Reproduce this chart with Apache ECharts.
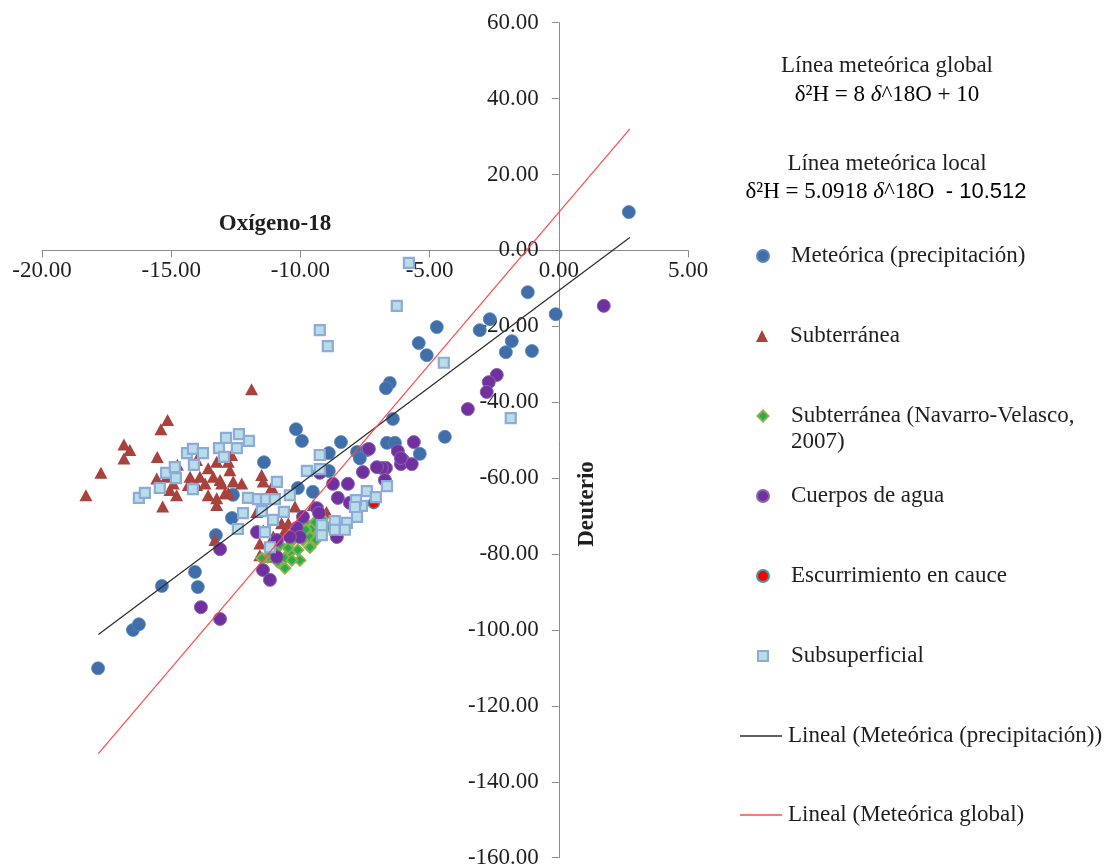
<!DOCTYPE html>
<html><head><meta charset="utf-8">
<script src="https://cdn.jsdelivr.net/npm/echarts@6/dist/echarts.min.js"></script>
<style>html,body{margin:0;padding:0;background:#fff}#c{width:1119px;height:868px}</style>
</head><body><div id="c"></div>
<script>
// ---------- data ----------
const xTicks = { min: -20, max: 5, step: 5 };
const yTicks = { min: -160, max: 60, step: 20 };

const meteorica = [
[2.71,10.1],[-1.2,-11.0],[-0.12,-16.8],[-2.67,-18.1],[-3.06,-21.0],[-1.82,-23.9],[-2.05,-26.8],[-1.04,-26.5],
[-4.72,-20.2],[-5.42,-24.4],[-5.11,-27.6],[-6.54,-34.9],[-6.69,-36.3],[-6.42,-44.4],[-4.41,-49.1],[-5.38,-53.6],
[-6.65,-50.7],[-6.34,-50.7],[-8.43,-50.5],[-7.81,-53.1],[-8.9,-53.4],[-8.9,-58.1],[-9.52,-63.6],[-10.17,-47.1],
[-9.94,-50.2],[-11.41,-55.8],[-12.61,-64.4],[-12.65,-70.5],[-13.27,-75.0],[-10.1,-62.6],[-17.83,-110.1],
[-16.48,-100.0],[-16.25,-98.5],[-15.36,-88.4],[-14.08,-84.7],[-13.97,-88.7],[-7.43,-52.6],[-7.7,-54.8]
];
const subterranea = [
[-11.89,-36.6],[-15.14,-44.7],[-15.4,-47.1],[-16.83,-51.1],[-16.6,-52.6],[-16.83,-54.8],[-15.54,-54.4],[-17.72,-58.6],
[-18.3,-64.5],[-15.33,-67.5],[-14.76,-56.5],[-14.02,-55.2],[-13.24,-55.7],[-12.79,-55.7],[-12.73,-57.9],[-13.57,-57.4],
[-14.27,-59.6],[-13.89,-59.6],[-13.37,-59.6],[-13.11,-60.5],[-12.6,-60.9],[-12.27,-61.4],[-15.56,-60.1],[-15.18,-59.6],
[-14.92,-61.4],[-15.05,-63.1],[-14.79,-64.5],[-14.34,-61.8],[-14.02,-61.8],[-13.69,-61.4],[-13.57,-64.5],[-13.24,-65.3],
[-12.92,-64.0],[-13.24,-67.1],[-11.5,-59.2],[-11.44,-60.9],[-11.11,-62.3],[-11.05,-63.6],[-12.66,-53.9],[-13.05,-61.4],
[-12.79,-64.0],[-11.69,-68.9],[-10.73,-71.9],[-10.47,-71.9],[-11.44,-73.7],[-11.57,-77.2],[-11.05,-75.4],[-10.6,-73.7],
[-10.21,-67.5],[-9.95,-71.0],[-9.5,-67.1],[-8.99,-68.9],[-9.12,-70.6],[-11.18,-80.7],[-11.57,-80.3],[-13.31,-76.3]
];
const navarroVelasco = [
[-11.26,-80.8],[-10.6,-83.7],[-10.99,-78.9],[-10.41,-79.7],[-10.1,-78.9],[-10.29,-76.3],[-9.9,-76.3],[-9.63,-78.2],
[-9.94,-73.6],[-9.63,-75.5],[-9.52,-73.1],[-9.25,-74.5],[-9.25,-71.8],[-8.97,-72.9],[-9.83,-71.6],[-9.44,-71.6],
[-10.14,-75.0],[-10.6,-81.1],[-10.87,-82.1],[-10.02,-81.6],[-10.79,-77.6],[-10.48,-78.4],[-11.14,-79.7],[-9.79,-73.6],
[-9.4,-76.3],[-9.17,-70.6],[-10.33,-81.6],[-11.49,-81.1]
];
const cuerpos = [
[1.74,-14.6],[-2.4,-32.8],[-2.71,-34.7],[-2.79,-37.3],[-3.52,-41.8],[-5.61,-50.5],[-6.23,-52.9],[-6.03,-55.2],
[-6.11,-56.3],[-5.69,-56.3],[-7.35,-52.3],[-6.69,-57.3],[-6.85,-57.3],[-7.58,-58.4],[-6.73,-60.5],[-8.74,-61.5],
[-8.16,-61.5],[-8.55,-65.2],[-8.09,-66.5],[-9.25,-58.6],[-8.59,-75.5],[-7.04,-57.1],[-6.11,-54.7],[-9.36,-67.9],
[-9.9,-70.2],[-10.14,-73.1],[-10.02,-75.5],[-10.41,-75.5],[-10.91,-76.3],[-11.68,-74.2],[-10.91,-80.8],[-11.45,-84.2],
[-11.18,-86.8],[-13.11,-78.7],[-9.28,-69.2],[-13.85,-94.0],[-13.11,-97.1]
];
const escurrimiento = [[-7.16,-66.6]];
const subsuperficial = [
[-5.8,-3.3],[-6.27,-14.6],[-9.25,-21.0],[-8.94,-25.2],[-4.45,-29.6],[-1.86,-44.2],[-9.25,-53.9],[-9.75,-58.1],
[-9.25,-57.6],[-6.65,-62.1],[-7.43,-63.4],[-7.08,-65.0],[-7.62,-67.3],[-7.85,-65.8],[-7.81,-70.2],[-8.2,-71.8],
[-8.67,-71.3],[-9.17,-72.4],[-9.17,-75.0],[-16.25,-65.2],[-16.02,-63.9],[-15.44,-62.6],[-15.2,-58.6],[-14.86,-57.1],
[-14.82,-60.0],[-14.39,-53.4],[-14.16,-52.3],[-13.77,-53.4],[-14.12,-56.5],[-14.16,-62.9],[-13.15,-52.1],[-12.88,-49.4],
[-12.38,-48.4],[-11.99,-50.2],[-12.46,-52.1],[-12.96,-54.4],[-10.91,-61.0],[-12.03,-65.2],[-11.64,-65.5],[-11.33,-65.5],
[-10.99,-65.5],[-10.41,-64.5],[-12.22,-69.2],[-11.49,-68.7],[-11.06,-71.0],[-10.64,-68.9],[-12.42,-73.4],[-11.37,-74.2],
[-11.18,-78.2],[-7.89,-67.6],[-8.67,-73.6],[-8.28,-73.6]
];
// trend line end points
const lineLocal = [[-17.82,-101.2],[2.75,3.4]];
const lineGlobal = [[-17.82,-132.6],[2.75,32.0]];

const names = {
  met: 'Meteórica (precipitación)',
  sub: 'Subterránea',
  nav: 'Subterránea (Navarro-Velasco, 2007)',
  cue: 'Cuerpos de agua',
  esc: 'Escurrimiento en cauce',
  sss: 'Subsuperficial',
  lloc: 'Lineal (Meteórica (precipitación))',
  lglo: 'Lineal (Meteórica global)'
};

// ---------- layout ----------
const W = 1119, H = 868;
const G = {left: 42, right: 431, top: 22.7, bottom: 10.3};
const gw = W - G.left - G.right, gh = H - G.top - G.bottom;
// put the axes where the other axis is zero
const xAxisOffset = -(gh * (0 - yTicks.min) / (yTicks.max - yTicks.min));
const yAxisOffset = -(gw * (0 - xTicks.min) / (xTicks.max - xTicks.min));

const FONT = 'Liberation Serif, Times New Roman, serif';
const TXT = '#1f1f1f';
const AX = '#8c8c8c';
const chart = echarts.init(document.getElementById('c'), null, {renderer: 'canvas'});

function legendAt(name, top, size, extra) {
  return Object.assign({
    data: [name], left: 762 - size / 2, top: top, orient: 'vertical', padding: 0,
    itemWidth: size, itemHeight: size, selectedMode: false,
    textStyle: {fontFamily: FONT, fontSize: 23, color: TXT, lineHeight: 26, padding: [0, 0, 0, 23 - size / 2]}
  }, extra || {});
}
function lineLegendAt(name, top) {
  return {
    data: [{name: name, icon: 'rect'}], left: 740, top: top, orient: 'vertical', padding: 0,
    itemWidth: 42, itemHeight: 1.3, selectedMode: false,
    textStyle: {fontFamily: FONT, fontSize: 23, color: TXT, lineHeight: 26, padding: [0, 0, 0, 1]}
  };
}

chart.setOption({
  animation: false,
  backgroundColor: '#fff',
  grid: {left: G.left, right: G.right, top: G.top, bottom: G.bottom, containLabel: false, outerBoundsMode: 'none'},
  xAxis: {
    type: 'value', min: xTicks.min, max: xTicks.max, interval: xTicks.step,
    position: 'bottom', offset: xAxisOffset,
    axisLine: {onZero: false, lineStyle: {color: AX, width: 1}},
    axisTick: {show: true, length: 7, lineStyle: {color: AX}},
    axisLabel: {formatter: v => v.toFixed(2), fontFamily: FONT, fontSize: 23, color: TXT, margin: 9},
    splitLine: {show: false}
  },
  yAxis: {
    type: 'value', min: yTicks.min, max: yTicks.max, interval: yTicks.step,
    position: 'left', offset: yAxisOffset,
    axisLine: {onZero: false, lineStyle: {color: AX, width: 1}},
    axisTick: {show: true, length: 7, lineStyle: {color: AX}},
    axisLabel: {formatter: v => v.toFixed(2), fontFamily: FONT, fontSize: 23, color: TXT, margin: 20},
    splitLine: {show: false}
  },
  legend: [
    legendAt(names.met, 243, 12),
    legendAt(names.sub, 323, 12),
    legendAt(names.nav, 377, 11, {
      formatter: () => ' \nSubterránea (Navarro-Velasco,\n2007)'
    }),
    legendAt(names.cue, 483, 12),
    legendAt(names.esc, 563, 12),
    legendAt(names.sss, 643, 10),
    lineLegendAt(names.lloc, 723),
    lineLegendAt(names.lglo, 802)
  ],
  graphic: [
    {type: 'text', x: 887, y: 66, style: {text: 'Línea meteórica global', font: '23px ' + FONT, fill: TXT, align: 'center', verticalAlign: 'middle'}},
    {type: 'text', x: 887, y: 95, style: {
      text: '{n|δ²H = 8 }{i|δ}{n|^18O + 10}', align: 'center', verticalAlign: 'middle',
      rich: {n: {fontFamily: FONT, fontSize: 23, color: TXT}, i: {fontFamily: FONT, fontSize: 23, fontStyle: 'italic', color: TXT}}
    }},
    {type: 'text', x: 887, y: 164, style: {text: 'Línea meteórica local', font: '23px ' + FONT, fill: TXT, align: 'center', verticalAlign: 'middle'}},
    {type: 'text', x: 886, y: 192, style: {
      text: '{n|δ²H = 5.0918 }{i|δ}{n|^18O  }{s|- 10.512}', align: 'center', verticalAlign: 'middle',
      rich: {n: {fontFamily: FONT, fontSize: 23, color: TXT}, i: {fontFamily: FONT, fontSize: 23, fontStyle: 'italic', color: TXT},
             s: {fontFamily: 'Liberation Sans, Arial, sans-serif', fontSize: 22, color: TXT}}
    }},
    {type: 'text', x: 275, y: 224, style: {text: 'Oxígeno-18', font: 'bold 23px ' + FONT, fill: TXT, align: 'center', verticalAlign: 'middle'}},
    {type: 'text', x: 587, y: 504, rotation: Math.PI / 2, style: {text: 'Deuterio', font: 'bold 23px ' + FONT, fill: TXT, align: 'center', verticalAlign: 'middle'}}
  ],
  series: [
    {name: names.met, type: 'scatter', data: meteorica, symbol: 'circle', symbolSize: 13, z: 2,
     itemStyle: {color: '#3f6ea9', borderColor: '#5a86bd', borderWidth: 0.8, opacity: 1}},
    {name: names.sub, type: 'scatter', data: subterranea, symbol: 'triangle', symbolSize: [13, 12], z: 2,
     itemStyle: {color: '#a9413c', opacity: 1}},
    {name: names.nav, type: 'scatter', data: navarroVelasco, symbol: 'diamond', symbolSize: 11, z: 2,
     itemStyle: {color: '#1fb04a', borderColor: '#8daf4c', borderWidth: 2, opacity: 1}},
    {name: names.cue, type: 'scatter', data: cuerpos, symbol: 'circle', symbolSize: 13, z: 2,
     itemStyle: {color: '#7030a0', borderColor: '#8868ac', borderWidth: 1, opacity: 1}},
    {name: names.esc, type: 'scatter', data: escurrimiento, symbol: 'circle', symbolSize: 11, z: 2,
     itemStyle: {color: '#ff0000', borderColor: '#3a9bb0', borderWidth: 1.5, opacity: 1}},
    {name: names.sss, type: 'scatter', data: subsuperficial, symbol: 'rect', symbolSize: 10, z: 2,
     itemStyle: {color: '#b7dde8', borderColor: '#8eaad8', borderWidth: 2.2, opacity: 1}},
    {name: names.lloc, type: 'line', data: lineLocal, symbol: 'none', z: 5, silent: true,
     lineStyle: {color: '#2b2b2b', width: 1.2}, itemStyle: {color: '#2b2b2b'}},
    {name: names.lglo, type: 'line', data: lineGlobal, symbol: 'none', z: 5, silent: true,
     lineStyle: {color: '#ff4a4a', width: 1.2}, itemStyle: {color: '#ff4a4a'}}
  ]
});
</script></body></html>
